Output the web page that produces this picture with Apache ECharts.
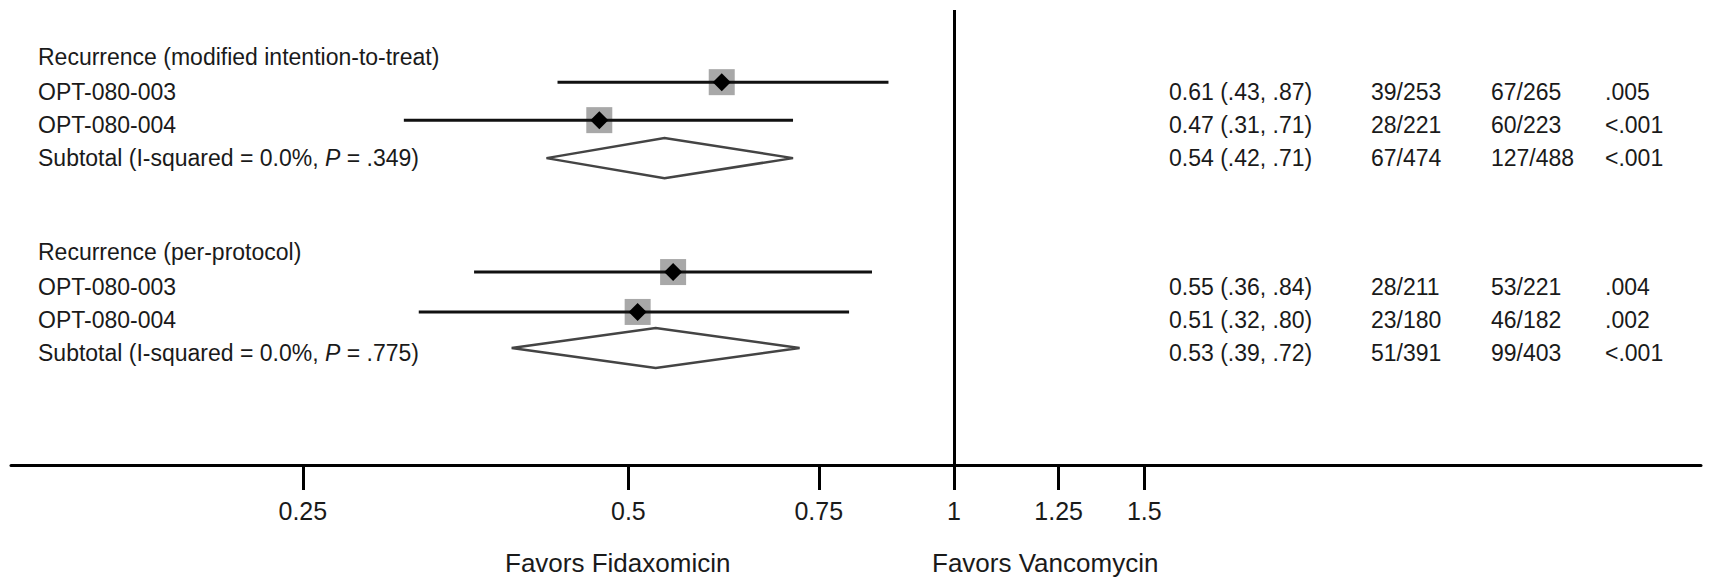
<!DOCTYPE html>
<html><head><meta charset="utf-8">
<script src="https://cdn.jsdelivr.net/npm/echarts@6/dist/echarts.min.js"></script>
<style>html,body{margin:0;padding:0;background:#fff}#c{width:1710px;height:577px}</style>
</head><body><div id="c"></div>
<script>
// ---------- data ----------
const sectionTitles = ['Recurrence (modified intention-to-treat)', 'Recurrence (per-protocol)'];
const rowNames = ['OPT-080-003', 'OPT-080-004', 'Subtotal (I-squared = 0.0%, P = .349)',
                  'OPT-080-003', 'OPT-080-004', 'Subtotal (I-squared = 0.0%, P = .775)'];
const isSubtotal = [0, 0, 1, 0, 0, 1];
const estimates = [0.61, 0.47, 0.54, 0.55, 0.51, 0.53];
const lowerCI   = [0.43, 0.31, 0.42, 0.36, 0.32, 0.39];
const upperCI   = [0.87, 0.71, 0.71, 0.84, 0.80, 0.72];
const fidaxEvents = ['39/253', '28/221', '67/474', '28/211', '23/180', '51/391'];
const vancoEvents = ['67/265', '60/223', '127/488', '53/221', '46/182', '99/403'];
const pValues = ['.005', '<.001', '<.001', '.004', '.002', '<.001'];
const tickValues = [0.25, 0.5, 0.75, 1, 1.25, 1.5];
const tickLabels = ['0.25', '0.5', '0.75', '1', '1.25', '1.5'];
const leftNote = 'Favors Fidaxomicin';
const rightNote = 'Favors Vancomycin';

// ---------- layout (row positions on the vertical scale) ----------
const markerRows = [1, 2, 3, 6, 7.05, 8];
const headerTextRows = [0.34, 5.47];
const rowTextRows = [1.26, 2.13, 3.0, 6.39, 7.26, 8.13];

const FONT = '"Liberation Sans", Arial, Helvetica, sans-serif';
const TXT = '#1a1a1a';

const shortCI = v => v.toFixed(2).replace(/^0/, '');
const ciText = estimates.map((e, i) => e.toFixed(2) + ' (' + shortCI(lowerCI[i]) + ', ' + shortCI(upperCI[i]) + ')');

const leftVals = [headerTextRows[0], rowTextRows[0], rowTextRows[1], rowTextRows[2],
                  headerTextRows[1], rowTextRows[3], rowTextRows[4], rowTextRows[5]];
const leftTexts = [sectionTitles[0], rowNames[0], rowNames[1], rowNames[2],
                   sectionTitles[1], rowNames[3], rowNames[4], rowNames[5]];
const findIdx = (arr, v) => arr.findIndex(a => Math.abs(a - v) < 1e-6);

const Y_MIN = -0.9, Y_MAX = 11.08;

const chart = echarts.init(document.getElementById('c'), null, { renderer: 'svg' });
chart.setOption({
  animation: false,
  backgroundColor: '#fff',
  grid: { left: 11, right: 9, top: 10, bottom: 112, containLabel: false, outerBoundsMode: 'none' },
  xAxis: {
    type: 'log', logBase: 2, min: 0.1343, max: 4.908, position: 'bottom',
    axisLine: { onZero: false, lineStyle: { color: '#000', width: 3 } },
    axisTick: { customValues: tickValues, length: 25, lineStyle: { color: '#000', width: 3 } },
    axisLabel: {
      customValues: tickValues, margin: 33, fontSize: 25, fontFamily: FONT, color: TXT,
      formatter: v => { const k = findIdx(tickValues, v); return k >= 0 ? tickLabels[k] : ''; }
    },
    splitLine: { show: false }, minorTick: { show: false }
  },
  yAxis: [{
    type: 'value', inverse: true, min: Y_MIN, max: Y_MAX, position: 'left',
    axisLine: { show: false, onZero: false }, axisTick: { show: false }, splitLine: { show: false },
    axisLabel: {
      customValues: leftVals, align: 'left', margin: -27, fontSize: 23, fontFamily: FONT, color: TXT,
      formatter: v => {
        const k = findIdx(leftVals, v);
        if (k < 0) return '';
        return leftTexts[k].replace('P =', '{i|P} =');
      },
      rich: { i: { fontStyle: 'italic', fontSize: 23, fontFamily: FONT, color: TXT } }
    }
  }, {
    type: 'value', inverse: true, min: Y_MIN, max: Y_MAX, position: 'right', offset: -532,
    axisLine: { show: false, onZero: false }, axisTick: { show: false }, splitLine: { show: false },
    axisLabel: {
      customValues: rowTextRows, align: 'left', margin: 0, fontSize: 23, fontFamily: FONT, color: TXT,
      formatter: v => {
        const k = findIdx(rowTextRows, v);
        if (k < 0) return '';
        return '{a|' + ciText[k] + '}{b|' + fidaxEvents[k] + '}{c|' + vancoEvents[k] + '}{d|' + pValues[k] + '}';
      },
      rich: {
        a: { width: 202, fontSize: 23, fontFamily: FONT, color: TXT, align: 'left' },
        b: { width: 120, fontSize: 23, fontFamily: FONT, color: TXT, align: 'left' },
        c: { width: 114, fontSize: 23, fontFamily: FONT, color: TXT, align: 'left' },
        d: { fontSize: 23, fontFamily: FONT, color: TXT, align: 'left' }
      }
    }
  }],
  series: [{
    type: 'line', data: [], silent: true,
    markLine: {
      silent: true, symbol: ['none', 'none'], label: { show: false },
      lineStyle: { color: '#000', width: 3, type: 'solid' },
      data: [{ xAxis: 1 }]
    }
  }, {
    type: 'custom', silent: true,
    encode: { x: [0, 1, 2], y: 3 },
    data: estimates.map((e, i) => [e, lowerCI[i], upperCI[i], markerRows[i], isSubtotal[i]]),
    renderItem: (params, api) => {
      const row = api.value(3);
      const pE = api.coord([api.value(0), row]);
      const pL = api.coord([api.value(1), row]);
      const pH = api.coord([api.value(2), row]);
      if (api.value(4)) {
        return {
          type: 'polygon',
          shape: { points: [[pL[0], pE[1]], [pE[0], pE[1] - 20], [pH[0], pE[1]], [pE[0], pE[1] + 20]] },
          style: { fill: '#fff', stroke: '#444', lineWidth: 2.5 }
        };
      }
      return {
        type: 'group', children: [
          { type: 'rect', shape: { x: pE[0] - 13, y: pE[1] - 13, width: 26, height: 26 }, style: { fill: '#a8a8a8' } },
          { type: 'line', shape: { x1: pL[0], y1: pL[1], x2: pH[0], y2: pH[1] }, style: { stroke: '#111', lineWidth: 3 } },
          { type: 'polygon', shape: { points: [[pE[0] - 9, pE[1]], [pE[0], pE[1] - 9], [pE[0] + 9, pE[1]], [pE[0], pE[1] + 9]] }, style: { fill: '#000' } }
        ]
      };
    }
  }],
  graphic: [
    { type: 'text', x: 505, y: 563, silent: true,
      style: { text: leftNote, fontSize: 26, fontFamily: FONT, fill: TXT, align: 'left', verticalAlign: 'middle' } },
    { type: 'text', x: 932, y: 563, silent: true,
      style: { text: rightNote, fontSize: 26, fontFamily: FONT, fill: TXT, align: 'left', verticalAlign: 'middle' } }
  ]
});
</script>
</body></html>
